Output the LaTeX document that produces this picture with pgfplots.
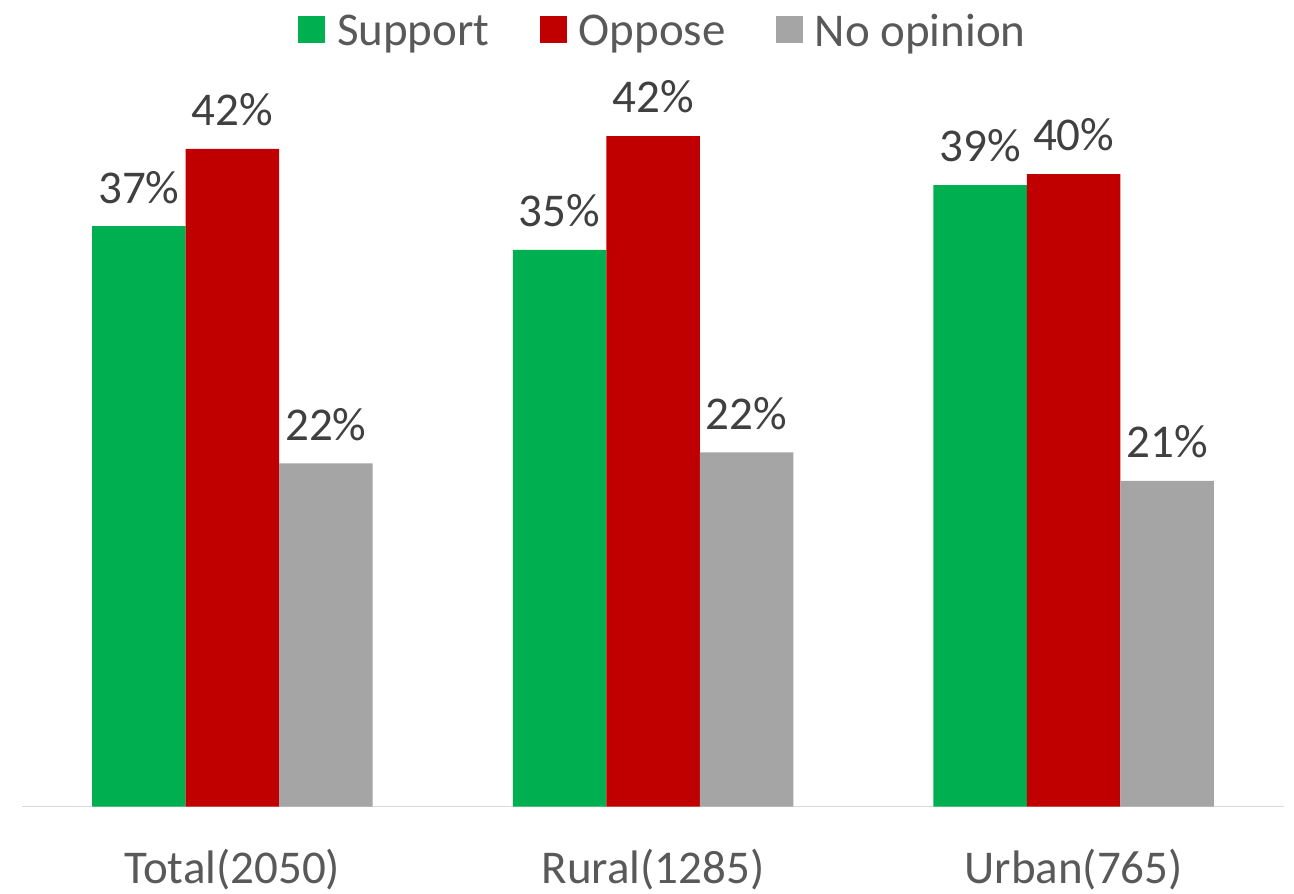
\documentclass[border=0pt]{standalone}
\usepackage{pgfplots}
\pgfplotsset{compat=1.18}
\usepackage{fontspec}
\setmainfont{Carlito}

\definecolor{cSupport}{HTML}{00B050}
\definecolor{cOppose}{HTML}{C00000}
\definecolor{cNone}{HTML}{A5A5A5}
\definecolor{lblText}{HTML}{404040}
\definecolor{tickText}{HTML}{595959}
\definecolor{axisLine}{HTML}{D9D9D9}

% x: 0 = Total(2050), 1 = Rural(1285), 2 = Urban(765)
\pgfplotstableread{
x  support oppose none
0  36.7    41.6   21.7
1  35.2    42.4   22.4
2  39.3    40.0   20.6
}\opinion

\begin{document}
\begin{tikzpicture}
\useasboundingbox (-11pt,-43.25pt) rectangle (636pt,403.25pt);
\begin{axis}[
    at={(0,0)}, anchor=south west,
    scale only axis,
    width=631pt, height=355.75pt,
    ybar=0pt, bar width=46.75pt,
    xmin=-0.5, xmax=2.5,
    ymin=0, ymax=45,
    axis x line=bottom, axis y line=none,
    x axis line style={axisLine, line width=0.8pt, -},
    xtick={0,1,2},
    xticklabels={Total(2050),Rural(1285),Urban(765)},
    major tick length=0pt,
    xticklabel style={anchor=base, yshift=-38.25pt, inner sep=0pt,
        font=\fontsize{23.5}{28}\selectfont, text=tickText},
    /pgf/number format/assume math mode=true,
    nodes near coords={\pgfmathprintnumber[fixed,precision=0]{\pgfplotspointmeta}\%},
    every node near coord/.append style={anchor=base, yshift=11.6pt, inner sep=0pt,
        font=\fontsize{23.5}{28}\selectfont, text=lblText},
    clip=false,
    legend style={at={(0.507,1.089)}, anchor=center, draw=none, fill=none,
        legend columns=-1,
        font=\fontsize{23.5}{28}\selectfont, text=tickText,
        nodes={inner sep=0pt},
        /tikz/every odd column/.append style={column sep=6pt},
        /tikz/every even column/.append style={column sep=25pt}},
    legend image code/.code={\fill[#1] (0pt,-5.5pt) rectangle (13.5pt,8pt);},
]
\addplot[fill=cSupport, draw=none] table[x=x, y=support] {\opinion};
\addplot[fill=cOppose, draw=none] table[x=x, y=oppose] {\opinion};
\addplot[fill=cNone, draw=none] table[x=x, y=none] {\opinion};
\legend{Support, Oppose, No opinion}
\end{axis}
\end{tikzpicture}
\end{document}
